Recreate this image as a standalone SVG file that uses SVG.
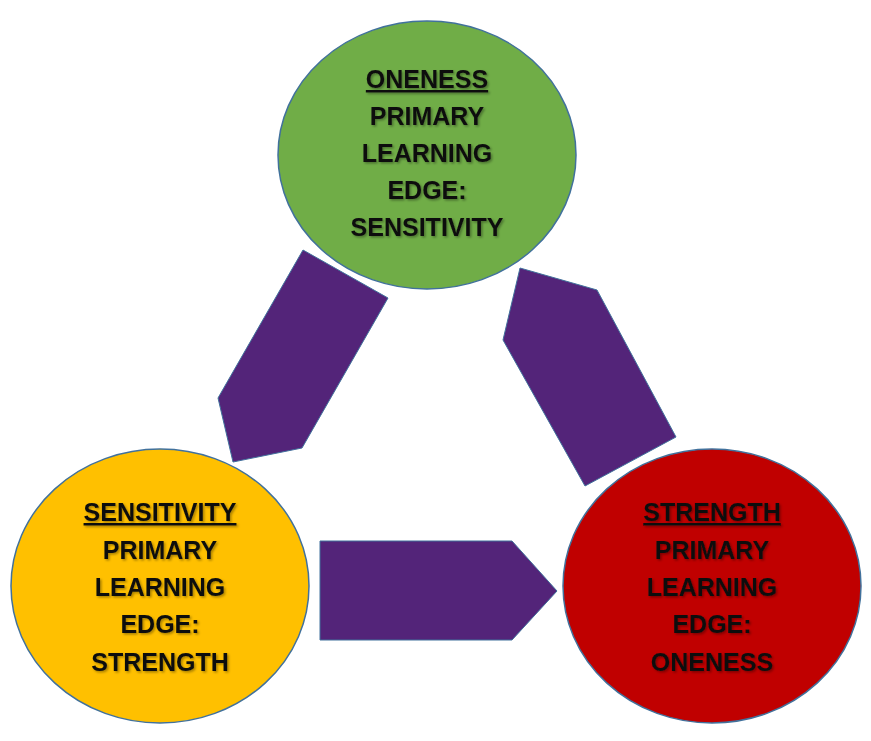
<svg xmlns="http://www.w3.org/2000/svg" width="871" height="741" viewBox="0 0 871 741">
<defs>
<filter id="sh" x="-10%" y="-10%" width="120%" height="130%"><feDropShadow dx="1.5" dy="1.5" stdDeviation="1" flood-color="#000" flood-opacity="0.35"/></filter>
</defs>
<style>
.n{stroke:#41719c;stroke-width:1.5}
.a{fill:#532479;stroke:#41719c;stroke-width:1}
text{font-family:"Liberation Sans",Arial,sans-serif;font-weight:bold;font-size:25px;fill:#111;text-anchor:middle;filter:url(#sh)}
.u{text-decoration:underline}
</style>
<rect width="871" height="741" fill="#fff"/>
<g id="connectors">
<polygon class="a" points="303,250 388,298 302,448 233,462 218,398"/>
<polygon class="a" points="585,486 503,340 520,268 597,290 676,437"/>
<polygon class="a" points="320,541 512,541 557,591 512,640 320,640"/>
</g>
<g id="oneness">
<ellipse class="n" cx="427" cy="155" rx="149" ry="134" fill="#70ad47"/>
<text x="427" y="88" class="u">ONENESS</text>
<text x="427" y="125">PRIMARY</text>
<text x="427" y="162">LEARNING</text>
<text x="427" y="199">EDGE:</text>
<text x="427" y="236">SENSITIVITY</text>
</g>
<g id="sensitivity">
<ellipse class="n" cx="160" cy="586" rx="149" ry="137" fill="#ffc000"/>
<text x="160" y="521" class="u">SENSITIVITY</text>
<text x="160" y="559">PRIMARY</text>
<text x="160" y="596">LEARNING</text>
<text x="160" y="633">EDGE:</text>
<text x="160" y="671">STRENGTH</text>
</g>
<g id="strength">
<ellipse class="n" cx="712" cy="586" rx="149" ry="137" fill="#c00000"/>
<text x="712" y="521" class="u">STRENGTH</text>
<text x="712" y="559">PRIMARY</text>
<text x="712" y="596">LEARNING</text>
<text x="712" y="633">EDGE:</text>
<text x="712" y="671">ONENESS</text>
</g>
</svg>
